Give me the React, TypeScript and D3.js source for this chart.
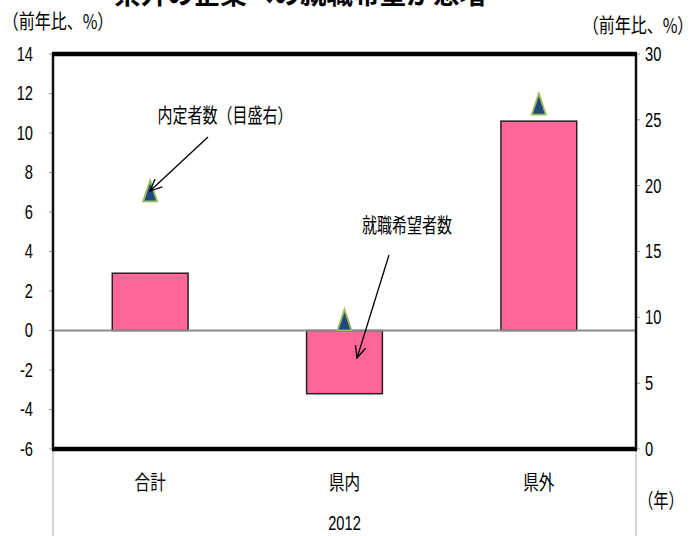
import React from "react";
import * as d3 from "d3";

const categories = ["合計", "県内", "県外"];
const applicants = [2.9, -3.2, 10.6]; // 就職希望者数 (left axis)
const offers = [19.6, 9.8, 26.2]; // 内定者数 (right axis)
const leftTicks = [-6, -4, -2, 0, 2, 4, 6, 8, 10, 12, 14];
const rightTicks = [0, 5, 10, 15, 20, 25, 30];
const yearLabel = "2012";

const W = 697;
const H = 536;
const L = 53;
const R = 636;
const T = 54;
const B = 449;

const FONT = "'Liberation Sans', Arial, sans-serif";
const CJK = "'Noto Sans CJK JP', sans-serif";

function SText(props: { x: number; y: number; s?: number; anchor?: string; size?: number; children: React.ReactNode; font?: string; weight?: string }) {
  const { x, y, s = 0.8, anchor = "middle", size = 17, children, font = CJK, weight = "normal" } = props;
  return (
    <text
      transform={`translate(${x},${y}) scale(${s},1)`}
      textAnchor={anchor}
      dominantBaseline="central"
      fontSize={size}
      fontFamily={font}
      fontWeight={weight}
      fill="#000"
    >
      {children}
    </text>
  );
}

export default function App() {
  const x = d3.scaleBand<string>().domain(categories).range([L, R]);
  const yL = d3.scaleLinear().domain([-6, 14]).range([B, T]);
  const yR = d3.scaleLinear().domain([0, 30]).range([B, T]);
  const bw = x.bandwidth() * 0.39;

  const triPath = (cx: number, cy: number) => {
    const w = 14, h = 21;
    return `M${cx},${cy - h / 2}L${cx + w / 2},${cy + h / 2}L${cx - w / 2},${cy + h / 2}Z`;
  };

  const arrow = (x1: number, y1: number, x2: number, y2: number) => {
    const a = Math.atan2(y2 - y1, x2 - x1);
    const len = 13, sp = 0.42;
    const p1 = [x2 - len * Math.cos(a - sp), y2 - len * Math.sin(a - sp)];
    const p2 = [x2 - len * Math.cos(a + sp), y2 - len * Math.sin(a + sp)];
    return (
      <g stroke="#000" strokeWidth={1.3} fill="none">
        <line x1={x1} y1={y1} x2={x2} y2={y2} />
        <polyline points={`${p1[0]},${p1[1]} ${x2},${y2} ${p2[0]},${p2[1]}`} />
      </g>
    );
  };

  return (
    <svg width={W} height={H} style={{ position: "absolute", left: 0, top: 0, background: "#fff" }}>
      <rect x={0} y={0} width={W} height={H} fill="#fff" />
      {/* title (cut off at top edge, as in the reference) */}
      <text x={0} y={0} textAnchor="middle" fontSize={28} fontWeight="bold" fontFamily={CJK} fill="#000" transform="translate(300,4) scale(0.95,1)">
        県外の企業への就職希望が急増
      </text>

      {/* axis units */}
      <SText x={58} y={20} size={20} s={0.8}>（前年比、%）</SText>
      <SText x={638} y={24} size={20} s={0.8}>（前年比、%）</SText>

      {/* lower gray separators */}
      <line x1={L} y1={B} x2={L} y2={H} stroke="#bbb" strokeWidth={1.2} />
      <line x1={R} y1={B} x2={R} y2={H} stroke="#bbb" strokeWidth={1.2} />

      {/* left ticks */}
      {leftTicks.map((t) => (
        <g key={"l" + t}>
          <line x1={L - 4} x2={L} y1={yL(t)} y2={yL(t)} stroke="#999" strokeWidth={1} />
          <SText x={33} y={yL(t)} anchor="end" size={21} s={0.7} font={FONT}>{t}</SText>
        </g>
      ))}
      {/* right ticks */}
      {rightTicks.map((t) => (
        <g key={"r" + t}>
          <line x1={R} x2={R + 4} y1={yR(t)} y2={yR(t)} stroke="#999" strokeWidth={1} />
          <SText x={645} y={yR(t)} anchor="start" size={21} s={0.7} font={FONT}>{t}</SText>
        </g>
      ))}

      {/* bars */}
      {categories.map((c, i) => {
        const cx = (x(c) as number) + x.bandwidth() / 2;
        const v = applicants[i];
        const y0 = yL(0);
        const y1 = yL(v);
        return (
          <rect
            key={"b" + c}
            x={cx - bw / 2}
            y={Math.min(y0, y1)}
            width={bw}
            height={Math.abs(y1 - y0)}
            fill="#FF6699"
            stroke="#222"
            strokeWidth={1.5}
          />
        );
      })}

      {/* zero line */}
      <line x1={L} x2={R} y1={yL(0)} y2={yL(0)} stroke="#8c8c8c" strokeWidth={2} />

      {/* markers */}
      {categories.map((c, i) => {
        const cx = (x(c) as number) + x.bandwidth() / 2;
        return (
          <path key={"m" + c} d={triPath(cx, yR(offers[i]))} fill="#1F497D" stroke="#9BBB59" strokeWidth={1.8} strokeLinejoin="miter" />
        );
      })}

      {/* frame */}
      <line x1={L} x2={L} y1={T} y2={B} stroke="#111" strokeWidth={2.5} />
      <line x1={R} x2={R} y1={T} y2={B} stroke="#111" strokeWidth={2.5} />
      <line x1={L - 1} x2={R + 1} y1={T} y2={T} stroke="#000" strokeWidth={4.5} />
      <line x1={L - 1} x2={R + 1} y1={B} y2={B} stroke="#000" strokeWidth={4.5} />

      {/* annotations */}
      <SText x={225} y={115} size={20} s={0.75}>内定者数（目盛右）</SText>
      {arrow(208, 137, 150, 191)}
      <SText x={407} y={225} size={20} s={0.75}>就職希望者数</SText>
      {arrow(389, 255, 357, 358)}

      {/* category labels */}
      {categories.map((c) => (
        <SText key={"c" + c} x={(x(c) as number) + x.bandwidth() / 2} y={481} size={20} s={0.78}>{c}</SText>
      ))}
      <SText x={(L + R) / 2} y={523} size={21} s={0.7} font={FONT}>{yearLabel}</SText>
      <SText x={661} y={500} size={20} s={0.75}>（年）</SText>
    </svg>
  );
}
